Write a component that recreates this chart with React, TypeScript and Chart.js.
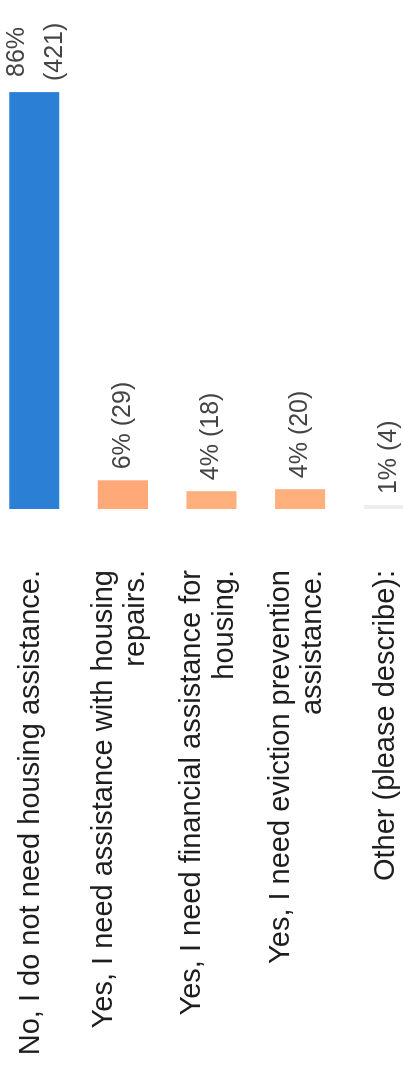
import { useEffect, useRef } from "react";
import { Chart, registerables } from "chart.js";

Chart.register(...registerables);

// Survey answers (multi-line where the answer wraps)
const categories: string[][] = [
  ["No, I do not need housing assistance."],
  ["Yes, I need assistance with housing", "repairs."],
  ["Yes, I need financial assistance for", "housing."],
  ["Yes, I need eviction prevention", "assistance."],
  ["Other (please describe):"],
];

// Number of responses per answer
const responses: number[] = [421, 29, 18, 20, 4];

const barColors: string[] = ["#2b80d6", "#ffa878", "#ffb07c", "#ffb07c", "#ececec"];

const FONT = '"Liberation Sans", Arial, sans-serif';
const total = responses.reduce((a, b) => a + b, 0);

// Draws "NN% (count)" past the end of each bar, wrapping when space runs out
const valueLabels = {
  id: "valueLabels",
  afterDatasetsDraw(chart: any) {
    const { ctx, chartArea } = chart;
    const meta = chart.getDatasetMeta(0);
    ctx.save();
    ctx.font = `25px ${FONT}`;
    ctx.fillStyle = "#444444";
    ctx.textBaseline = "middle";
    meta.data.forEach((bar: any, i: number) => {
      const pct = Math.round((responses[i] / total) * 100);
      const text = `${pct}% (${responses[i]})`;
      const x0 = bar.x + 11;
      const room = chartArea.right - x0;
      if (ctx.measureText(text).width <= room) {
        ctx.textAlign = "left";
        ctx.fillText(text, x0, bar.y);
      } else {
        const lines = text.split(" ");
        const w = Math.max(...lines.map((l) => ctx.measureText(l).width));
        const lh = 38;
        ctx.textAlign = "center";
        lines.forEach((l, k) => {
          ctx.fillText(l, x0 + w / 2, bar.y + 2 + (k - (lines.length - 1) / 2) * lh);
        });
      }
    });
    ctx.restore();
  },
};

export default function App() {
  const canvasRef = useRef<HTMLCanvasElement | null>(null);

  useEffect(() => {
    if (!canvasRef.current) return;
    const chart = new Chart(canvasRef.current, {
      type: "bar",
      data: {
        labels: categories,
        datasets: [
          {
            data: responses,
            backgroundColor: barColors,
            borderWidth: 0,
            barPercentage: 0.565,
            categoryPercentage: 1,
          },
        ],
      },
      options: {
        indexAxis: "y",
        responsive: false,
        maintainAspectRatio: false,
        devicePixelRatio: 1,
        animation: false,
        layout: { padding: 0 },
        plugins: {
          legend: { display: false },
          tooltip: { enabled: false },
        },
        scales: {
          x: {
            display: false,
            min: 0,
            max: 514,
          },
          y: {
            // tick marks are hidden; their length only sets the gap before the bars
            grid: { display: false, drawTicks: true, tickLength: 61 },
            border: { display: false },
            afterFit: (scale: any) => {
              scale.width = 556;
              scale.paddingTop = 0;
              scale.paddingBottom = 0;
            },
            ticks: {
              padding: 0,
              labelOffset: -3,
              color: "#1e1e1e",
              font: { family: FONT, size: 29, lineHeight: 1.12 },
              autoSkip: false,
            },
          },
        },
      },
      plugins: [valueLabels],
    });
    return () => chart.destroy();
  }, []);

  return (
    <div
      style={{
        position: "fixed",
        left: 0,
        top: 0,
        width: 403,
        height: 1065,
        overflow: "hidden",
        background: "#ffffff",
      }}
    >
      <div
        style={{
          position: "absolute",
          left: -10,
          top: 0,
          width: 1065,
          height: 443,
          transformOrigin: "0 0",
          transform: "translateY(1065px) rotate(-90deg)",
        }}
      >
        <canvas ref={canvasRef} width={1065} height={443} style={{ display: "block" }} />
      </div>
    </div>
  );
}
